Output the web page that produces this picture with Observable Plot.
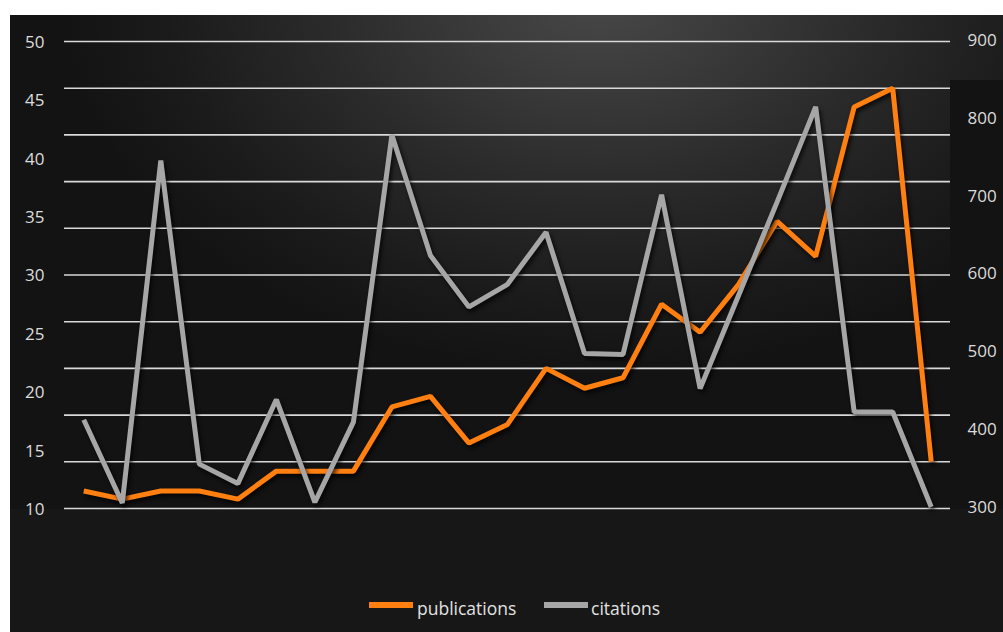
<!DOCTYPE html>
<html>
<head>
<meta charset="utf-8">
<script src="https://cdn.jsdelivr.net/npm/d3@7"></script>
<script src="https://cdn.jsdelivr.net/npm/@observablehq/plot@0.6"></script>
<style>
  html, body { margin: 0; padding: 0; background: #ffffff; }
  #chart { position: relative; width: 1003px; height: 632px; overflow: hidden; font-family: "Open Sans", sans-serif; }
  .layer { position: absolute; }
  #bg { left: 10px; top: 15px; width: 993px; height: 617px; background: #161616; }
  #glow { left: 10px; top: 15px; width: 993px; height: 617px;
    background: radial-gradient(ellipse 540px 380px at 590px -20px, #484848 0%, #3a3a3a 25%, #2a2a2a 52%, #1b1b1b 80%, #131313 100%); }
  #mL { left: 10px; top: 80px; width: 54px; height: 552px; background: #131313; }
  #mR { left: 950px; top: 80px; width: 53px; height: 552px; background: #131313; }
  #mB { left: 10px; top: 509px; width: 993px; height: 123px; background: #171717; }
  #plotwrap { left: 0; top: 0; }
  #legend { left: 0; top: 590px; width: 1003px; height: 40px; }
  .sw { position: absolute; top: 12px; width: 44px; height: 6px; }
  .lt { position: absolute; top: 6px; font-size: 17.5px; line-height: 24px; color: #e2e2e2; white-space: nowrap; }
</style>
</head>
<body>
<div id="chart">
  <div id="bg" class="layer"></div>
  <div id="glow" class="layer"></div>
  <div id="mL" class="layer"></div>
  <div id="mR" class="layer"></div>
  <div id="mB" class="layer"></div>
  <div id="plotwrap" class="layer"></div>
  <div id="legend" class="layer">
    <div class="sw" style="left:369px;background:#ff7f11"></div>
    <div class="lt" style="left:417px">publications</div>
    <div class="sw" style="left:544px;background:#a6a6a6"></div>
    <div class="lt" style="left:591px">citations</div>
  </div>
</div>
<script>
// ---- data ----
const periods = [1, 2, 3, 4, 5, 6, 7, 8, 9, 10, 11, 12, 13, 14, 15, 16, 17, 18, 19, 20, 21, 22, 23];
const publications = [11.5, 10.8, 11.5, 11.5, 10.8, 13.2, 13.2, 13.2, 18.7, 19.6, 15.6, 17.2, 22.0, 20.3, 21.2, 27.5, 25.1, 29.2, 34.6, 31.6, 44.4, 46.0, 14.0];
const citations = [414, 307, 747, 357, 332, 440, 308, 411, 780, 625, 559, 588, 655, 499, 498, 703, 454, 574, 694, 816, 424, 424, 302];
const leftTicks = [10, 15, 20, 25, 30, 35, 40, 45, 50];
const rightTicks = [300, 400, 500, 600, 700, 800, 900];
const gridValues = [10, 14, 18, 22, 26, 30, 34, 38, 42, 46, 50];

// secondary axis (300..900) mapped onto primary (10..50)
const leftDomain = [10, 50];
const rightDomain = [300, 900];
const toLeft = c => leftDomain[0] + (c - rightDomain[0]) * (leftDomain[1] - leftDomain[0]) / (rightDomain[1] - rightDomain[0]);
const toRight = v => rightDomain[0] + (v - leftDomain[0]) * (rightDomain[1] - rightDomain[0]) / (leftDomain[1] - leftDomain[0]);

const rows = periods.map((p, i) => ({period: p, publications: publications[i], citations: toLeft(citations[i])}));

const chart = Plot.plot({
  width: 1003,
  height: 632,
  marginTop: 41,
  marginBottom: 124,
  marginLeft: 64,
  marginRight: 53,
  style: {background: "transparent", color: "#dcdcdc", fontFamily: "Open Sans, sans-serif", fontSize: "17px"},
  x: {type: "point", domain: periods, padding: 0.5, round: false, axis: null},
  y: {domain: leftDomain, axis: null},
  marks: [
    Plot.ruleY(gridValues, {stroke: "#d9d9d9", strokeWidth: 1.6}),
    Plot.axisY(leftTicks, {anchor: "left", tickSize: 0, tickPadding: 20, dy: 1, fill: "#dcdcdc", fontSize: 17}),
    Plot.axisY(rightTicks.map(toLeft), {anchor: "right", tickSize: 0, tickPadding: 17, dy: -1, fill: "#dcdcdc", fontSize: 17,
      tickFormat: v => String(Math.round(toRight(v)))}),
    Plot.line(rows, {x: "period", y: "publications", stroke: "#ff7f11", strokeWidth: 5, strokeLinejoin: "miter", strokeLinecap: "butt"}),
    Plot.line(rows, {x: "period", y: "citations", stroke: "#a6a6a6", strokeWidth: 5, strokeLinejoin: "miter", strokeLinecap: "butt"})
  ]
});
d3.select(chart).selectAll("g[aria-label='line'] path").style("filter", "drop-shadow(2px 3px 2px rgba(0,0,0,0.75))");
document.getElementById("plotwrap").appendChild(chart);
</script>
</body>
</html>
